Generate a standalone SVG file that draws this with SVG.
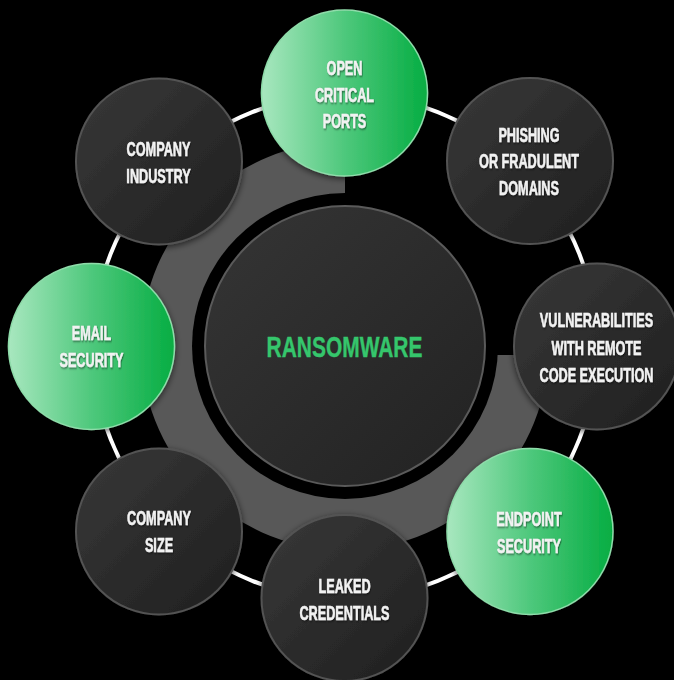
<svg xmlns="http://www.w3.org/2000/svg" width="674" height="680" viewBox="0 0 674 680">
  <defs>
    <linearGradient id="darkFill" x1="0" y1="0" x2="1" y2="1">
      <stop offset="0" stop-color="#383838"/>
      <stop offset="1" stop-color="#1f1f1f"/>
    </linearGradient>
    <linearGradient id="greenFill" x1="0" y1="0" x2="1" y2="0">
      <stop offset="0" stop-color="#a8e7bf"/>
      <stop offset="0.5" stop-color="#4ec87c"/>
      <stop offset="1" stop-color="#05ad42"/>
    </linearGradient>
    <linearGradient id="centerFill" x1="0" y1="0" x2="1" y2="1">
      <stop offset="0" stop-color="#353535"/>
      <stop offset="1" stop-color="#222222"/>
    </linearGradient>
    <filter id="txtShadow" x="-20%" y="-40%" width="140%" height="180%">
      <feDropShadow dx="1" dy="1.2" stdDeviation="0.8" flood-color="#000" flood-opacity="0.55"/>
    </filter>
    <filter id="nodeShadow" x="-20%" y="-20%" width="140%" height="140%">
      <feDropShadow dx="0" dy="2" stdDeviation="3" flood-color="#000" flood-opacity="0.6"/>
    </filter>
  </defs>
  <style>
    .dark { fill: url(#darkFill); stroke: #535353; stroke-width: 2; }
    .green { fill: url(#greenFill); stroke: #8fdcaa; stroke-width: 1.5; }
    .lbl { font-family: "Liberation Sans", Arial, sans-serif; font-weight: bold; font-size: 19.5px; fill: #f2f2f2; stroke: #f2f2f2; stroke-width: 0.5; text-anchor: middle; filter: url(#txtShadow); }
    .main { font-family: "Liberation Sans", Arial, sans-serif; font-weight: bold; font-size: 29.5px; fill: #35c66c; stroke: #35c66c; stroke-width: 0.4; text-anchor: middle; }
  </style>

  <rect x="0" y="0" width="674" height="680" fill="#000"/>

  <!-- gray three-quarter arc -->
  <path d="M 345 355 L 345 142 A 204 204 0 1 0 548.8 355 Z" fill="#585858"/>
  <!-- black ring -->
  <circle cx="345" cy="346" r="153" fill="#000"/>

  <g id="connectors">
    <circle cx="345" cy="346.5" r="252" fill="none" stroke="#ffffff" stroke-width="4"/>
  </g>

  <g id="center">
    <circle cx="345" cy="346" r="140" fill="url(#centerFill)" stroke="#5a5a5a" stroke-width="2"/>
    <g transform="translate(344.5 0) scale(0.71 1)">
      <text class="main" x="0" y="357">RANSOMWARE</text>
    </g>
  </g>

  <g id="node-open-critical-ports">
    <circle class="green" cx="344.5" cy="93" r="83" filter="url(#nodeShadow)"/>
    <g transform="translate(344.5 0) scale(0.65 1)">
      <text class="lbl" x="0" y="75">OPEN</text>
      <text class="lbl" x="0" y="101.7">CRITICAL</text>
      <text class="lbl" x="0" y="128.3">PORTS</text>
    </g>
  </g>

  <g id="node-company-industry">
    <circle class="dark" cx="159" cy="161.5" r="83" filter="url(#nodeShadow)"/>
    <g transform="translate(158.5 0) scale(0.65 1)">
      <text class="lbl" x="0" y="156">COMPANY</text>
      <text class="lbl" x="0" y="183.3">INDUSTRY</text>
    </g>
  </g>

  <g id="node-phishing">
    <circle class="dark" cx="530" cy="161" r="83" filter="url(#nodeShadow)"/>
    <g transform="translate(529 0) scale(0.65 1)">
      <text class="lbl" x="0" y="141.7">PHISHING</text>
      <text class="lbl" x="0" y="168.3">OR FRADULENT</text>
      <text class="lbl" x="0" y="195">DOMAINS</text>
    </g>
  </g>

  <g id="node-email-security">
    <circle class="green" cx="91.5" cy="346.5" r="83" filter="url(#nodeShadow)"/>
    <g transform="translate(91.5 0) scale(0.65 1)">
      <text class="lbl" x="0" y="340">EMAIL</text>
      <text class="lbl" x="0" y="367">SECURITY</text>
    </g>
  </g>

  <g id="node-vulnerabilities">
    <circle class="dark" cx="597" cy="346.5" r="83" filter="url(#nodeShadow)"/>
    <g transform="translate(596.5 0) scale(0.65 1)">
      <text class="lbl" x="0" y="327.3">VULNERABILITIES</text>
      <text class="lbl" x="0" y="355">WITH REMOTE</text>
      <text class="lbl" x="0" y="381.7">CODE EXECUTION</text>
    </g>
  </g>

  <g id="node-endpoint-security">
    <circle class="green" cx="530" cy="531.5" r="83" filter="url(#nodeShadow)"/>
    <g transform="translate(529 0) scale(0.65 1)">
      <text class="lbl" x="0" y="526.5">ENDPOINT</text>
      <text class="lbl" x="0" y="553">SECURITY</text>
    </g>
  </g>

  <g id="node-company-size">
    <circle class="dark" cx="159" cy="531.5" r="83" filter="url(#nodeShadow)"/>
    <g transform="translate(159 0) scale(0.65 1)">
      <text class="lbl" x="0" y="525">COMPANY</text>
      <text class="lbl" x="0" y="552">SIZE</text>
    </g>
  </g>

  <g id="node-leaked-credentials">
    <circle class="dark" cx="344.5" cy="598" r="83" filter="url(#nodeShadow)"/>
    <g transform="translate(344.5 0) scale(0.65 1)">
      <text class="lbl" x="0" y="593">LEAKED</text>
      <text class="lbl" x="0" y="620">CREDENTIALS</text>
    </g>
  </g>
</svg>
